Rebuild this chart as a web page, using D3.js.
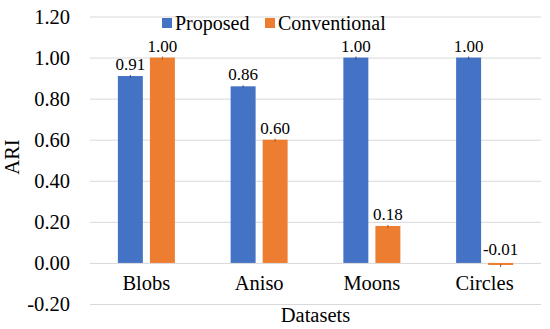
<!DOCTYPE html>
<html>
<head>
<meta charset="utf-8">
<script src="https://cdn.jsdelivr.net/npm/d3@7"></script>
</head>
<body style="margin:0;background:#fff">
<svg id="chart" width="550" height="329"></svg>
<script>
const datasets = ["Blobs", "Aniso", "Moons", "Circles"];
const seriesNames = ["Proposed", "Conventional"];
const proposed = [0.91, 0.86, 1.00, 1.00];
const conventional = [1.00, 0.60, 0.18, -0.01];
const yTicks = [-0.20, 0.00, 0.20, 0.40, 0.60, 0.80, 1.00, 1.20];
const colors = ["#4472C4", "#ED7D31"];

const FONT = '"Liberation Serif"';
const fmt = v => d3.format(".2f")(v).replace("\u2212", "-");

const width = 550, height = 329;
const margin = {top: 16.5, right: 9, bottom: 25, left: 90};
const innerW = width - margin.left - margin.right;
const innerH = height - margin.top - margin.bottom;

const svg = d3.select("#chart");
const g = svg.append("g").attr("transform", `translate(${margin.left},${margin.top})`);

const x = d3.scaleBand().domain(datasets).range([0, innerW]);
const xSub = d3.scaleBand().domain(seriesNames).range([x.bandwidth() / 2 - 28.5, x.bandwidth() / 2 + 28.5]).paddingInner(0.22);
const y = d3.scaleLinear().domain([-0.2, 1.2]).range([innerH, 0]);

// gridlines + y labels
const yAxis = g.append("g")
  .call(d3.axisLeft(y).tickValues(yTicks).tickSize(-innerW).tickPadding(20).tickFormat(fmt));
yAxis.select(".domain").remove();
yAxis.selectAll(".tick line").attr("stroke", "#d9d9d9").attr("stroke-width", 1);
yAxis.selectAll(".tick text").style("font-family", FONT).style("font-size", "20.5px").attr("fill", "#000");

const rows = datasets.map((d, i) => ({name: d, values: [proposed[i], conventional[i]]}));

const groups = g.selectAll(".cat").data(rows).join("g")
  .attr("class", "cat")
  .attr("transform", d => `translate(${x(d.name)},0)`);

const bars = groups.selectAll("g.bar").data(d => d.values.map((v, j) => ({s: seriesNames[j], v, j}))).join("g").attr("class", "bar");

bars.append("rect")
  .attr("x", d => xSub(d.s))
  .attr("width", xSub.bandwidth())
  .attr("y", d => y(Math.max(0, d.v)))
  .attr("height", d => Math.max(Math.abs(y(d.v) - y(0)), 1.5))
  .attr("fill", d => colors[d.j]);

// tiny error bars
bars.append("line")
  .attr("x1", d => xSub(d.s) + xSub.bandwidth() / 2)
  .attr("x2", d => xSub(d.s) + xSub.bandwidth() / 2)
  .attr("y1", d => y(d.v) - 1)
  .attr("y2", d => y(d.v) + 2)
  .attr("stroke", d => d.j === 0 ? "#2f4f8a" : "#a8561f")
  .attr("stroke-width", 1);

bars.append("text")
  .attr("x", d => xSub(d.s) + xSub.bandwidth() / 2)
  .attr("y", d => d.v >= 0 ? y(d.v) - 6 : y(0) - 8)
  .attr("text-anchor", "middle")
  .style("font-family", FONT)
  .style("font-size", "17px")
  .text(d => fmt(d.v));

// category labels
g.selectAll(".xlab").data(datasets).join("text")
  .attr("class", "xlab")
  .attr("x", d => x(d) + x.bandwidth() / 2)
  .attr("y", y(0) + 20)
  .attr("dy", "0.35em")
  .attr("text-anchor", "middle")
  .style("font-family", FONT)
  .style("font-size", "20.5px")
  .text(d => d);

// axis titles
svg.append("text")
  .attr("x", margin.left + innerW / 2)
  .attr("y", 315)
  .attr("dy", "0.35em")
  .attr("text-anchor", "middle")
  .style("font-family", FONT)
  .style("font-size", "20.5px")
  .text("Datasets");

svg.append("text")
  .attr("transform", "translate(12,157) rotate(-90)")
  .attr("dy", "0.35em")
  .attr("text-anchor", "middle")
  .style("font-family", FONT)
  .style("font-size", "20.5px")
  .text("ARI");

// legend
const legendX = [162, 265];
const legend = svg.selectAll(".leg").data(seriesNames).join("g")
  .attr("class", "leg")
  .attr("transform", (d, i) => `translate(${legendX[i]},23)`);
legend.append("rect").attr("x", 0).attr("y", -5).attr("width", 10).attr("height", 10)
  .attr("fill", (d, i) => colors[i]);
legend.append("text").attr("x", 13).attr("dy", "0.35em")
  .style("font-family", FONT).style("font-size", "20px").text(d => d);
</script>
</body>
</html>
